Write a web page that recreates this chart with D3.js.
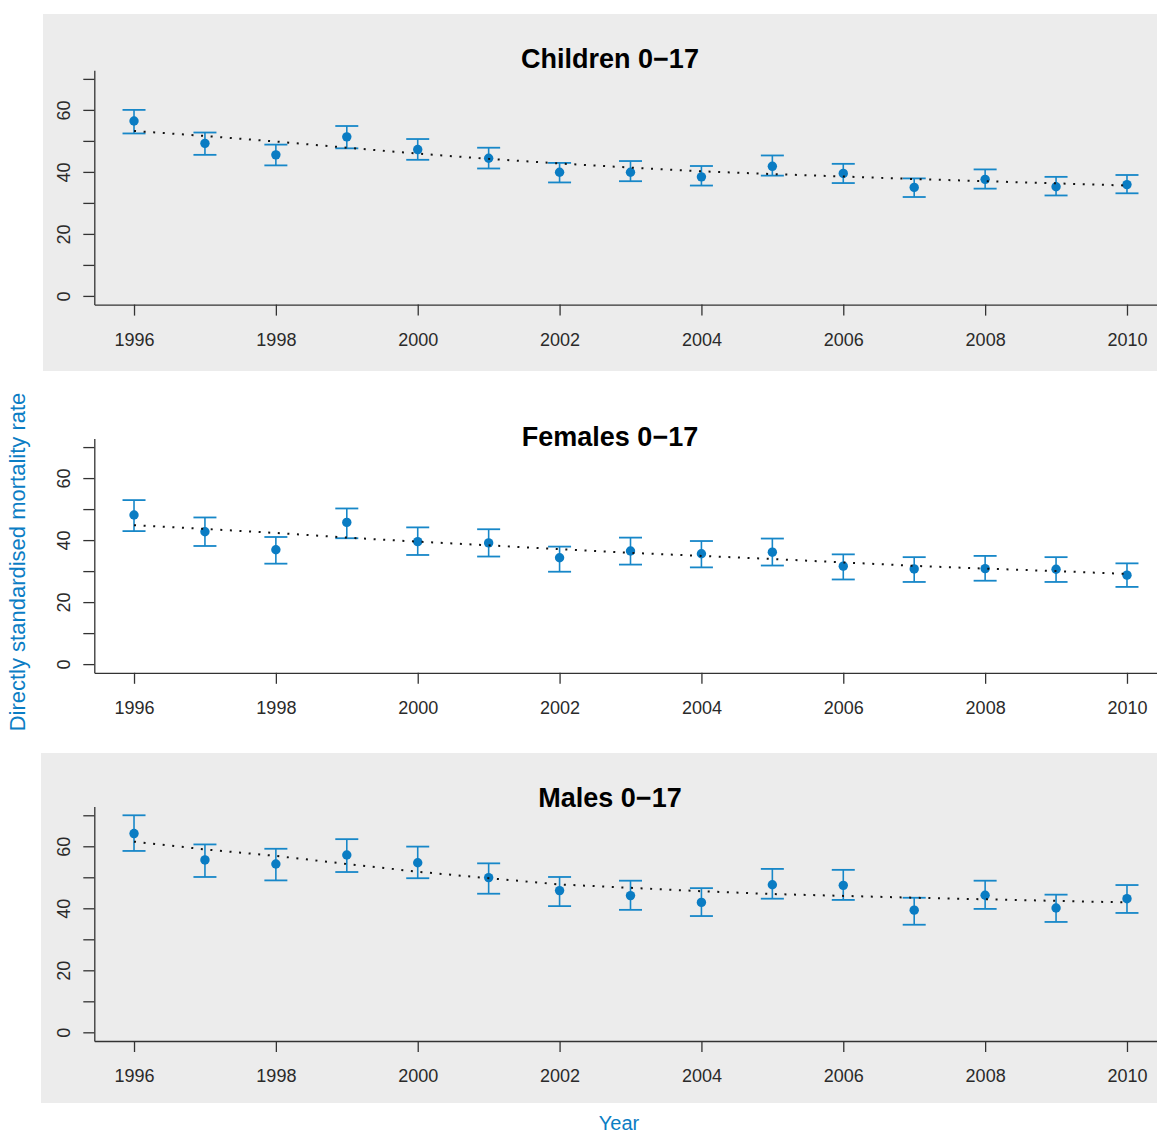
<!DOCTYPE html>
<html>
<head>
<meta charset="utf-8">
<script src="https://cdnjs.cloudflare.com/ajax/libs/d3/7.8.5/d3.min.js"></script>
<style>
  body { margin: 0; background: #fff; }
  svg { display: block; font-family: "Liberation Sans", Arial, sans-serif; }
</style>
</head>
<body>
<div id="chart"></div>
<script>
var years = [1996, 1997, 1998, 1999, 2000, 2001, 2002, 2003, 2004, 2005, 2006, 2007, 2008, 2009, 2010];
var xTicks = [1996, 1998, 2000, 2002, 2004, 2006, 2008, 2010];
var yTicks = [0, 10, 20, 30, 40, 50, 60, 70];
var yLabels = [0, 20, 40, 60];

var childrenRate  = [56.4, 49.2, 45.5, 51.3, 47.2, 44.4, 39.9, 39.9, 38.4, 41.8, 39.5, 35.0, 37.6, 35.2, 35.9];
var childrenLower = [52.4, 45.5, 42.1, 47.6, 43.9, 41.1, 36.6, 37.0, 35.6, 38.8, 36.4, 31.9, 34.6, 32.4, 33.1];
var childrenUpper = [60.0, 52.7, 48.8, 54.8, 50.6, 47.8, 42.9, 43.5, 41.9, 45.3, 42.6, 37.9, 40.8, 38.4, 39.0];
var childrenTrend = [53.2, 51.6, 49.8, 47.8, 45.9, 44.2, 42.7, 41.4, 40.2, 39.3, 38.5, 37.7, 37.0, 36.3, 35.6];

var femalesRate  = [48.1, 42.7, 36.9, 45.7, 39.5, 39.1, 34.3, 36.5, 35.6, 36.1, 31.6, 30.7, 30.8, 30.6, 28.7];
var femalesLower = [42.9, 38.1, 32.4, 40.6, 35.2, 34.7, 29.8, 32.1, 31.2, 31.8, 27.3, 26.5, 26.9, 26.5, 24.9];
var femalesUpper = [52.9, 47.3, 41.0, 50.2, 44.1, 43.5, 37.9, 40.8, 39.7, 40.5, 35.4, 34.5, 34.9, 34.5, 32.5];
var femalesTrend = [44.8, 43.6, 42.3, 40.8, 39.5, 38.3, 37.1, 35.9, 34.9, 33.9, 32.8, 31.7, 30.8, 30.0, 29.1];

var malesRate  = [64.1, 55.6, 54.3, 57.2, 54.7, 49.9, 45.7, 44.1, 41.9, 47.6, 47.4, 39.4, 44.2, 40.1, 43.1];
var malesLower = [58.5, 50.1, 49.0, 51.7, 49.7, 44.7, 40.7, 39.5, 37.5, 43.1, 42.7, 34.7, 39.8, 35.6, 38.5];
var malesUpper = [70.0, 60.6, 59.2, 62.3, 59.9, 54.5, 50.1, 48.9, 46.5, 52.7, 52.4, 43.4, 48.9, 44.4, 47.5];
var malesTrend = [61.5, 59.0, 56.9, 54.3, 51.8, 49.7, 47.7, 46.6, 45.5, 44.6, 44.0, 43.4, 42.9, 42.4, 41.9];

var width = 1157,
    height = 1133,
    plotH = 234.4,
    capHalf = 11.5,
    blue = "#0a7cc3",
    barBlue = "#1787c8",
    axisCol = "#333";

var panels = [
  {title: "Children 0\u221217", rate: childrenRate, lower: childrenLower, upper: childrenUpper, trend: childrenTrend,
   bottom: 304.6, titleY: 68, bg: {x: 43, y: 14, w: 1114, h: 357}},
  {title: "Females 0\u221217", rate: femalesRate, lower: femalesLower, upper: femalesUpper, trend: femalesTrend,
   bottom: 672.8, titleY: 446, bg: null},
  {title: "Males 0\u221217", rate: malesRate, lower: malesLower, upper: malesUpper, trend: malesTrend,
   bottom: 1041, titleY: 807, bg: {x: 41, y: 753, w: 1116, h: 350}}
];

var svg = d3.select("#chart").append("svg")
    .attr("width", width)
    .attr("height", height);

var x = d3.scaleLinear()
    .domain([1995.44, 2010.56])
    .range([94.3, 1166.7]);

function drawPanel(p) {
  if (p.bg) {
    svg.append("rect")
      .attr("x", p.bg.x).attr("y", p.bg.y)
      .attr("width", p.bg.w).attr("height", p.bg.h)
      .attr("fill", "#ececec");
  }

  var y = d3.scaleLinear()
      .domain([-2.8, 72.8])
      .range([p.bottom, p.bottom - plotH]);

  var g = svg.append("g");

  // y axis (line runs over the full plot height, like bty="l")
  var ya = g.append("g")
      .attr("transform", "translate(" + x.range()[0] + ",0)")
      .call(d3.axisLeft(y).tickValues(yTicks).tickSize(11).tickSizeOuter(0)
        .tickFormat(function(d) { return yLabels.indexOf(d) >= 0 ? d : ""; }));
  ya.selectAll("text")
      .attr("transform", "rotate(-90)")
      .attr("x", 0)
      .attr("y", -24.3)
      .attr("dy", 0)
      .attr("text-anchor", "middle");

  var xa = g.append("g")
      .attr("transform", "translate(0," + p.bottom + ")")
      .call(d3.axisBottom(x).tickValues(xTicks).tickSize(11).tickSizeOuter(0).tickFormat(d3.format("d")));
  xa.selectAll("text")
      .attr("y", 41)
      .attr("dy", 0);

  g.selectAll(".domain, .tick line")
      .attr("stroke", axisCol)
      .attr("stroke-width", 1.3);
  g.selectAll(".tick text")
      .attr("fill", "#2a2a2a")
      .style("font-size", "18px");

  // error bars
  g.selectAll("line.bar")
    .data(years)
    .enter().append("line")
      .attr("class", "bar")
      .attr("x1", function(d) { return x(d); })
      .attr("x2", function(d) { return x(d); })
      .attr("y1", function(d, i) { return y(p.lower[i]); })
      .attr("y2", function(d, i) { return y(p.upper[i]); })
      .attr("stroke", barBlue)
      .attr("stroke-width", 1.6);

  [p.lower, p.upper].forEach(function(arr) {
    g.selectAll(null)
      .data(years)
      .enter().append("line")
        .attr("x1", function(d) { return x(d) - capHalf; })
        .attr("x2", function(d) { return x(d) + capHalf; })
        .attr("y1", function(d, i) { return y(arr[i]); })
        .attr("y2", function(d, i) { return y(arr[i]); })
        .attr("stroke", barBlue)
        .attr("stroke-width", 1.8);
  });

  g.selectAll("circle")
    .data(years)
    .enter().append("circle")
      .attr("cx", function(d) { return x(d); })
      .attr("cy", function(d, i) { return y(p.rate[i]); })
      .attr("r", 4.7)
      .attr("fill", blue);

  var line = d3.line()
      .x(function(d) { return x(d); })
      .y(function(d, i) { return y(p.trend[i]); });

  g.append("path")
    .datum(years)
    .attr("d", line)
    .attr("fill", "none")
    .attr("stroke", "#111")
    .attr("stroke-width", 2)
    .attr("stroke-dasharray", "2,7.6");

  g.append("text")
    .attr("x", 610)
    .attr("y", p.titleY)
    .attr("text-anchor", "middle")
    .style("font-size", "27px")
    .style("font-weight", "bold")
    .attr("fill", "#000")
    .text(p.title);
}

panels.forEach(drawPanel);

svg.append("text")
  .attr("transform", "translate(25,562) rotate(-90)")
  .attr("text-anchor", "middle")
  .style("font-size", "22px")
  .attr("fill", "#0b7dc4")
  .text("Directly standardised mortality rate");

svg.append("text")
  .attr("x", 619)
  .attr("y", 1130)
  .attr("text-anchor", "middle")
  .style("font-size", "20px")
  .attr("fill", "#0b7dc4")
  .text("Year");
</script>
</body>
</html>
